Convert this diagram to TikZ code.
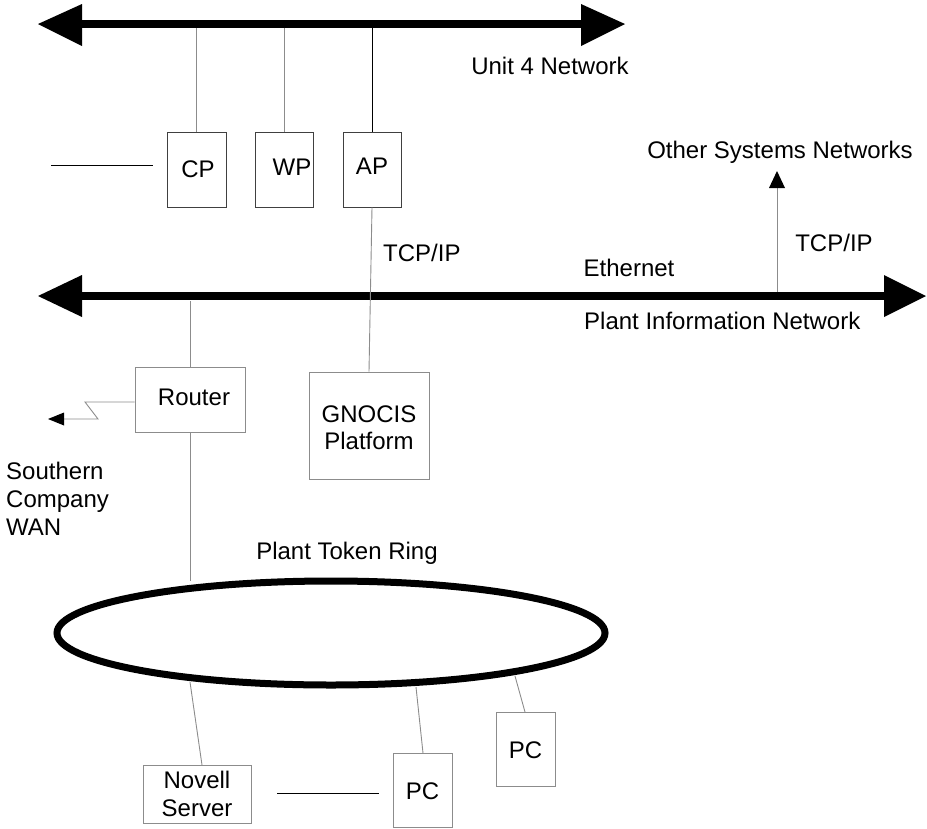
\documentclass[tikz,border=0pt]{standalone}
\usepackage{fontspec}
\setmainfont{Liberation Sans}
\usetikzlibrary{shapes.geometric}
\begin{document}
\begin{tikzpicture}[x=1pt,y=-1pt,
  lbl/.style={inner sep=0pt,font=\fontsize{24}{28}\selectfont},
  solidbox/.style={draw=black!75,line width=0.9pt,inner sep=0pt,font=\fontsize{24}{28}\selectfont},
  dotbox/.style={draw=black!45,line width=0.9pt,inner sep=0pt,font=\fontsize{24}{28}\selectfont,align=center},
  thinln/.style={draw=black!45,line width=0.9pt},
  dark/.style={draw=black,line width=0.9pt},
  bus/.style={line width=8pt},
  ring/.style={draw,line width=7pt}]
\useasboundingbox (0,0) rectangle (927,828);
% buses
\coordinate (t1) at (82,24); \coordinate (t2) at (581,24);
\coordinate (e1) at (82,296); \coordinate (e2) at (884,296);
\draw[bus] (t1) -- (t2);
\fill (38,24) -- (82,4) -- (82,46) -- cycle;
\fill (625,24) -- (581,4) -- (581,46) -- cycle;
\draw[bus] (e1) -- (e2);
\fill (38,296) -- (82,275) -- (82,317) -- cycle;
\fill (926,296) -- (884,275) -- (884,317) -- cycle;
% top boxes
\node[solidbox,minimum width=59pt,minimum height=75pt] (cp) at (196.5,169.5) {};
\node[lbl] at (198,169) {CP};
\node[solidbox,minimum width=58pt,minimum height=75pt] (wp) at (284,169.5) {};
\node[lbl] at (292,167) {WP};
\node[solidbox,minimum width=58pt,minimum height=75pt] (ap) at (372,169.5) {};
\node[lbl] at (372,166) {AP};
\draw[thinln] (196.5,28) -- (cp.north);
\draw[thinln] (284,28) -- (wp.north);
\draw[dark] (372,28) -- (ap.north);
\coordinate (cl1) at (51,165); \coordinate (cl2) at (153,165);
\draw[dark] (cl1) -- (cl2);
% labels
\node[lbl] at (550,66) {Unit 4 Network};
\node[lbl,anchor=west] at (383,253) {TCP/IP};
\node[lbl] at (780,152) {Other Systems Networks};
\node[lbl] at (834,243) {TCP/IP};
\node[lbl] at (629,268) {Ethernet};
\node[lbl,anchor=west] at (584,321) {Plant Information Network};
\node[lbl,anchor=north west,align=left,font=\fontsize{24}{28}\selectfont] at (6,462) {Southern\\Company\\WAN};
\node[lbl] at (347,553) {Plant Token Ring};
% other systems arrow
\coordinate (os1) at (777,292); \coordinate (os2) at (777,187);
\draw[thinln] (os1) -- (os2);
\fill (777,171) -- (769,188) -- (785,188) -- cycle;
% GNOCIS
\node[dotbox,minimum width=120pt,minimum height=107pt] (gn) at (369,425.5) {};
\node[lbl,align=center,font=\fontsize{24}{27}\selectfont] at (369,428) {GNOCIS\\Platform};
\draw[thinln] (ap.south) -- (gn.north);
% Router
\node[dotbox,minimum width=110pt,minimum height=65pt] (rt) at (190,399.5) {};
\node[lbl] at (194,397) {Router};
\coordinate (rb) at (190,301);
\draw[thinln] (rb) -- (rt.north);
% WAN zigzag
\coordinate (w1) at (85,402); \coordinate (w2) at (98,419); \coordinate (w3) at (63,419);
\draw[thinln] (rt.west |- w1) -- (w1) -- (w2) -- (w3);
\fill (48,419) -- (64,412.5) -- (64,425.5) -- cycle;
% ring
\node[ring,ellipse,minimum width=548pt,minimum height=104pt,inner sep=0pt] (ring) at (331,633) {};
\coordinate (rtop) at (190,581);
\draw[thinln] (rt.south) -- (rtop);
% bottom boxes
\node[dotbox,minimum width=108pt,minimum height=58pt] (nv) at (197,794) {};
\node[lbl,align=center,font=\fontsize{24}{28}\selectfont] at (197,794) {Novell\\Server};
\node[dotbox,minimum width=59pt,minimum height=74pt] (pc1) at (422.5,790) {};
\node[lbl] at (422.5,791) {PC};
\node[dotbox,minimum width=59pt,minimum height=74pt] (pc2) at (525.5,749) {};
\node[lbl] at (525.5,750) {PC};
\coordinate (r1) at (190,682); \coordinate (n1) at (202,765);
\coordinate (r2) at (416,687); \coordinate (p1) at (423,753);
\coordinate (r3) at (515,676); \coordinate (p2) at (525,712);
\draw[thinln] (r1) -- (n1);
\draw[thinln] (r2) -- (p1);
\draw[thinln] (r3) -- (p2);
\coordinate (np1) at (277,793); \coordinate (np2) at (379,793);
\draw[dark] (np1) -- (np2);
\end{tikzpicture}
\end{document}
